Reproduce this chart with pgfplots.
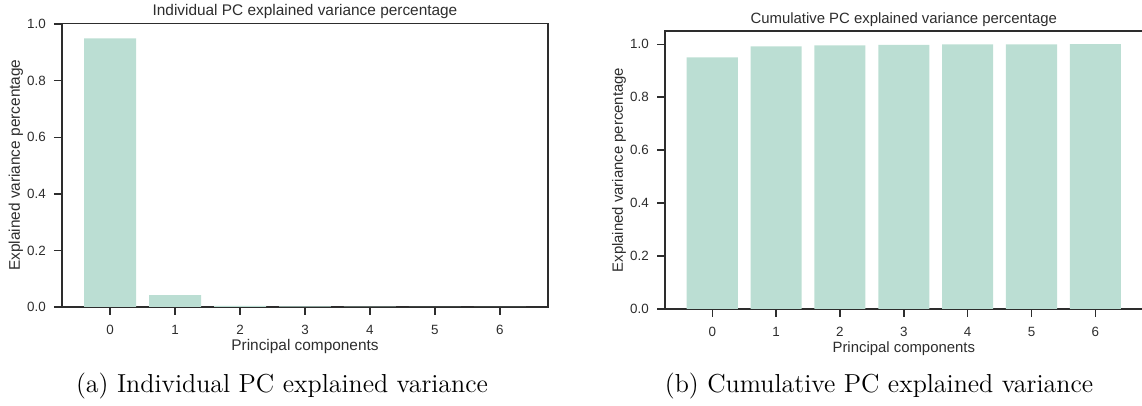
\documentclass[border=0pt]{standalone}
\usepackage{pgfplots}
\pgfplotsset{compat=1.18}
\usepackage{fontspec}
\newfontfamily\arial{Liberation Sans}
\definecolor{barc}{RGB}{187,222,211}
\definecolor{axc}{RGB}{45,45,45}
\pgfplotsset{
  pcstyle/.style={
    scale only axis,
    anchor=south west,
    axis line style={axc, line width=0.7pt},
    tick align=outside,
    tick pos=left,
    major tick length=4pt,
    every tick/.style={axc, line width=0.7pt},
    xmin=-0.74, xmax=6.74, ymin=0,
    xtick={0,1,2,3,4,5,6},
    xticklabels={0,1,2,3,4,5,6},
    ytick={0,0.2,0.4,0.6,0.8,1.0},
    yticklabel style={/pgf/number format/.cd, fixed, fixed zerofill, precision=1, assume math mode=true, /tikz/.cd, xshift=-0.6pt},
    xticklabel style={yshift=-1.4pt},
    tick label style={font=\arial\fontsize{6.7}{7}\selectfont, text=axc},
    every axis x label/.style={at={(axis description cs:0.5,0)}, anchor=center, yshift=-20pt, font=\arial\fontsize{#1}{#1}\selectfont, text=axc},
    every axis y label/.style={at={(axis description cs:0,0.5)}, rotate=90, anchor=center, yshift=23pt, font=\arial\fontsize{#1}{#1}\selectfont, text=axc},
    every axis title/.style={at={(axis description cs:0.5,1)}, anchor=center, yshift=5.9pt, font=\arial\fontsize{#1}{#1}\selectfont, text=axc},
    xlabel={Principal components},
    ylabel={Explained variance percentage},
    ybar, bar width=0.8,
  }
}
\begin{document}
\begin{tikzpicture}
\useasboundingbox (0pt,0pt) rectangle (571pt,203pt);
\begin{axis}[pcstyle={7.7}, at={(31pt,49.5pt)}, width=243pt, height=141.85pt, ymax=1.003,
  title={Individual PC explained variance percentage}]
\addplot[fill=barc, draw=none] coordinates {(0,0.950) (1,0.042) (2,0.004) (3,0.002) (4,0.001) (5,0.0006) (6,0.0004)};
\end{axis}
\begin{axis}[pcstyle={7.45}, at={(332.5pt,48.5pt)}, width=238.8pt, height=139pt, ymax=1.05,
  title={Cumulative PC explained variance percentage}]
\addplot[fill=barc, draw=none] coordinates {(0,0.950) (1,0.992) (2,0.996) (3,0.998) (4,0.999) (5,0.9996) (6,1.000)};
\end{axis}
\node[font=\fontsize{13}{15}\selectfont, anchor=base] at (141pt,6.8pt) {(a) Individual PC explained variance};
\node[font=\fontsize{13}{15}\selectfont, anchor=base] at (439.5pt,6.8pt) {(b) Cumulative PC explained variance};
\end{tikzpicture}
\end{document}
